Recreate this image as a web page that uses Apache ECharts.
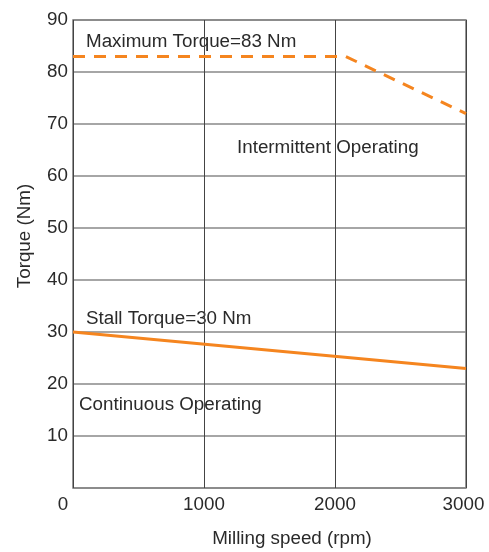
<!DOCTYPE html>
<html>
<head>
<meta charset="utf-8">
<script src="https://cdn.jsdelivr.net/npm/echarts@6/dist/echarts.min.js"></script>
<style>html,body{margin:0;padding:0;background:#fff}#c{width:489px;height:552px}</style>
</head>
<body>
<div id="c"></div>
<script>
// Data
var xTicks = [0, 1000, 2000, 3000];
var yTicks = [0, 10, 20, 30, 40, 50, 60, 70, 80, 90];
var maxTorqueSpeed = [0, 2080, 3000];
var maxTorqueValue = [83, 83, 72];
var contTorqueSpeed = [0, 3000];
var contTorqueValue = [30, 23];
var labels = ['Maximum Torque=83 Nm', 'Intermittent Operating', 'Stall Torque=30 Nm', 'Continuous Operating'];
var xName = 'Milling speed (rpm)';
var yName = 'Torque (Nm)';

var FONT = 'Liberation Sans, Arial, Helvetica, sans-serif';
var FS = 18.8;
var TXT = '#2a2a2a';
var ORANGE = '#f5851f';

var chart = echarts.init(document.getElementById('c'), null, {renderer: 'canvas'});
function pairs(xs, ys) { return xs.map(function (x, i) { return [x, ys[i]]; }); }

chart.setOption({
  animation: false,
  backgroundColor: '#fff',
  grid: {left: 73, right: 23, top: 20, bottom: 64, show: true, borderColor: '#777', borderWidth: 1.5, backgroundColor: 'transparent'},
  xAxis: {
    type: 'value', min: xTicks[0], max: xTicks[xTicks.length - 1], interval: 1000,
    axisLine: {show: false}, axisTick: {show: false},
    axisLabel: {color: TXT, fontFamily: FONT, fontSize: FS, margin: 7,
      formatter: function (v) { return v === 0 ? '{z|0}' : (v === 3000 ? '{e|3000}' : '' + v); },
      rich: {z: {color: TXT, fontFamily: FONT, fontSize: FS, padding: [0, 20, 0, 0]},
             e: {color: TXT, fontFamily: FONT, fontSize: FS, padding: [0, 5, 0, 0]}}},
    splitLine: {show: true, lineStyle: {color: '#444', width: 1}}
  },
  yAxis: {
    type: 'value', min: yTicks[0], max: yTicks[yTicks.length - 1], interval: 10,
    axisLine: {show: false}, axisTick: {show: false},
    axisLabel: {color: TXT, fontFamily: FONT, fontSize: FS, margin: 5,
      formatter: function (v) { return v === 0 ? '' : '' + v; }},
    splitLine: {show: true, lineStyle: {color: '#888', width: 1.5}}
  },
  series: [
    {type: 'line', data: pairs(maxTorqueSpeed, maxTorqueValue), symbol: 'none',
      lineStyle: {color: ORANGE, width: 3, type: [12, 9]}, z: 5},
    {type: 'line', data: pairs(contTorqueSpeed, contTorqueValue), symbol: 'none',
      lineStyle: {color: ORANGE, width: 3}, z: 5}
  ],
  graphic: [
    {type: 'text', left: 86, top: 32, style: {text: labels[0], fill: TXT, font: FS + 'px ' + FONT}},
    {type: 'text', left: 237, top: 138, style: {text: labels[1], fill: TXT, font: FS + 'px ' + FONT}},
    {type: 'text', left: 86, top: 309, style: {text: labels[2], fill: TXT, font: FS + 'px ' + FONT}},
    {type: 'text', left: 79, top: 395, style: {text: labels[3], fill: TXT, font: FS + 'px ' + FONT}},
    {type: 'text', x: 292, y: 539, style: {text: xName, fill: TXT, font: FS + 'px ' + FONT, textAlign: 'center', textVerticalAlign: 'middle'}},
    {type: 'text', x: 25, y: 236, rotation: Math.PI / 2, style: {text: yName, fill: TXT, font: FS + 'px ' + FONT, textAlign: 'center', textVerticalAlign: 'middle'}}
  ]
});
</script>
</body>
</html>
